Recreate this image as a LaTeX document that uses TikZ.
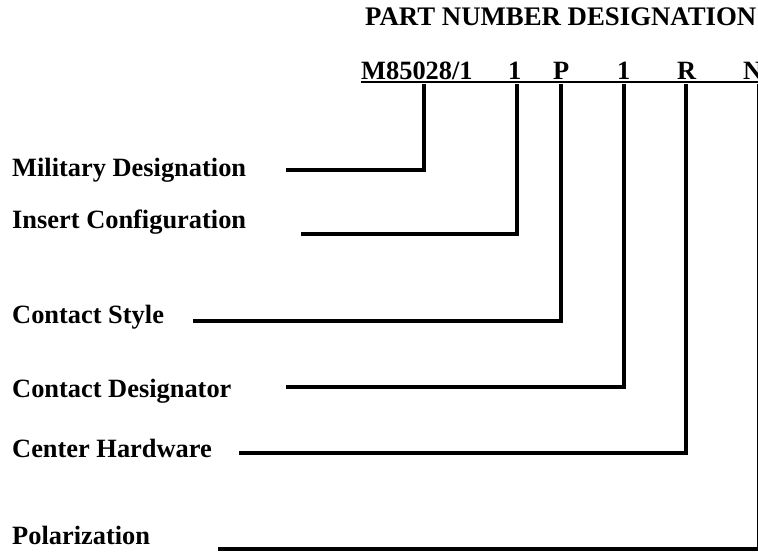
\documentclass[tikz,border=0pt]{standalone}
\usepackage{fontspec}
\setmainfont{Liberation Serif}
\begin{document}
\begin{tikzpicture}[x=1pt,y=1pt,
  lbl/.style={anchor=base west,inner sep=0pt,font=\fontsize{26.4}{30}\selectfont\bfseries},
  ttl/.style={anchor=base west,inner sep=0pt,font=\fontsize{26.8}{30}\selectfont\bfseries},
  leader/.style={line width=4pt,line cap=butt,line join=miter},
  uline/.style={line width=1.5pt}]
\useasboundingbox (0,0) rectangle (758,-552);
\fill[white] (0,0) rectangle (758,-552);
% title
\node[ttl] (title) at (365,-25) {PART NUMBER DESIGNATION};
% part number characters
\node[lbl] (pmil) at (361,-79) {M85028/1};
\node[lbl] (pins) at (508,-79) {1};
\node[lbl] (psty) at (553,-79) {P};
\node[lbl] (pdes) at (617,-79) {1};
\node[lbl] (phw)  at (677,-79) {R};
\node[lbl] (ppol) at (743,-79) {N};
\coordinate (ulA) at (361,-82);
\coordinate (ulB) at (770,-82);
\draw[uline] (ulA) -- (ulB);
% labels
\node[lbl] (lmil) at (12,-176) {Military Designation};
\node[lbl] (lins) at (12,-228) {Insert Configuration};
\node[lbl] (lsty) at (12,-323) {Contact Style};
\node[lbl] (ldes) at (12,-397) {Contact Designator};
\node[lbl] (lhw)  at (12,-457) {Center Hardware};
\node[lbl] (lpol) at (12,-544) {Polarization};
% leader starts
\coordinate (smil) at (286,-170);
\coordinate (sins) at (301,-234);
\coordinate (ssty) at (193,-321);
\coordinate (sdes) at (286,-387);
\coordinate (shw)  at (239,-453);
\coordinate (spol) at (218,-549);
% leader tops
\coordinate (tmil) at (424,-84);
\coordinate (tins) at (517,-84);
\coordinate (tsty) at (561,-84);
\coordinate (tdes) at (624,-84);
\coordinate (thw)  at (686,-84);
\coordinate (tpol) at (759,-84);
\draw[leader] (smil) -| (tmil);
\draw[leader] (sins) -| (tins);
\draw[leader] (ssty) -| (tsty);
\draw[leader] (sdes) -| (tdes);
\draw[leader] (shw)  -| (thw);
\draw[leader] (spol) -| (tpol);
\end{tikzpicture}
\end{document}
